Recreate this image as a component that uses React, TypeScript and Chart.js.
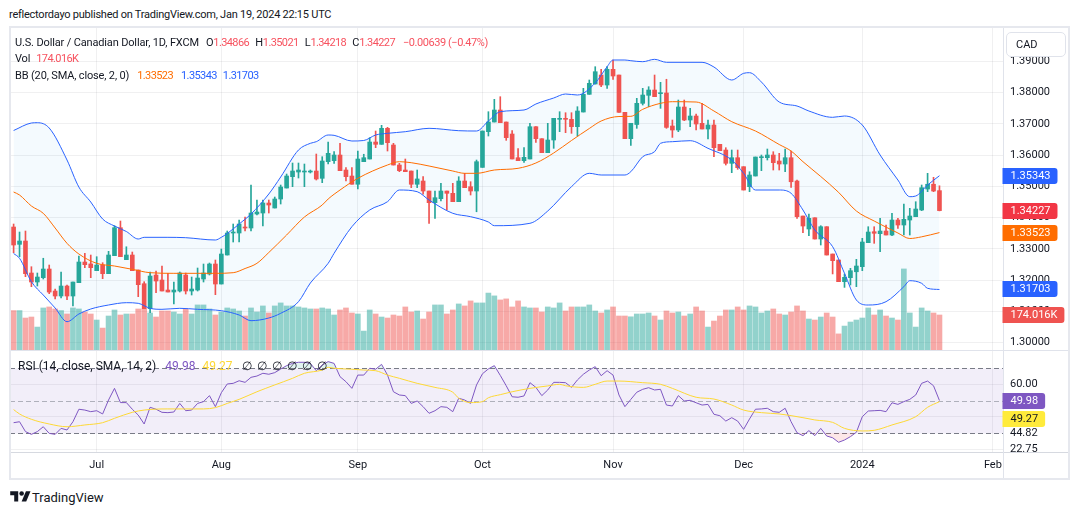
import React, { useEffect, useRef } from 'react';
import { Chart, registerables } from 'chart.js';

Chart.register(...registerables);

// USD/CAD daily bars, index 0 = 13 Jun 2023 … index 156 = 19 Jan 2024
const OPEN = [
  1.33702, 1.33148, 1.33254, 1.3223, 1.31942, 1.3208, 1.32358, 1.31654, 1.31494, 1.31814,
  1.31494, 1.3192, 1.32582, 1.3252, 1.32304, 1.32486, 1.32208, 1.32784, 1.3368, 1.32656,
  1.32806, 1.32326, 1.31888, 1.31088, 1.32166, 1.32006, 1.31686, 1.31622, 1.31654, 1.32166,
  1.31654, 1.31686, 1.32038, 1.32198, 1.32518, 1.31878, 1.32806, 1.3351, 1.3351, 1.33702,
  1.3367, 1.34118, 1.3415, 1.3447, 1.3431, 1.34598, 1.3495, 1.35312, 1.35462, 1.35462,
  1.35462, 1.35494, 1.3526, 1.35792, 1.35824, 1.36006, 1.35526, 1.35334, 1.3507, 1.35792,
  1.35878, 1.36422, 1.36348, 1.3686, 1.36326, 1.35686, 1.35526, 1.35494, 1.3507, 1.35174,
  1.34854, 1.3448, 1.34608, 1.34854, 1.3478, 1.34512, 1.35174, 1.34992, 1.34854, 1.3561,
  1.36752, 1.37062, 1.37446, 1.37062, 1.36678, 1.3592, 1.35824, 1.35878, 1.36912, 1.36528,
  1.3608, 1.36486, 1.37148, 1.3718, 1.37148, 1.36912, 1.37382, 1.37948, 1.38278, 1.38566,
  1.38246, 1.38748, 1.38566, 1.37372, 1.36528, 1.36982, 1.3766, 1.37916, 1.38086, 1.37968,
  1.3799, 1.36934, 1.36806, 1.37542, 1.37126, 1.37254, 1.3702, 1.36838, 1.36966, 1.36348,
  1.36166, 1.3574, 1.3592, 1.35632, 1.34992, 1.35334, 1.3592, 1.3592, 1.36006, 1.35814,
  1.35718, 1.3592, 1.35174, 1.34054, 1.33638, 1.33998, 1.33318, 1.33712, 1.32838, 1.32646,
  1.31952, 1.3208, 1.3227, 1.32432, 1.332, 1.33552, 1.33488, 1.33574, 1.33446, 1.33926,
  1.33766, 1.33926, 1.34032, 1.34246, 1.34918, 1.3507, 1.34866,
];
const HIGH = [
  1.33798, 1.33542, 1.33574, 1.32432, 1.3223, 1.32702, 1.32486, 1.31718, 1.32262, 1.31846,
  1.31942, 1.32774, 1.3286, 1.32806, 1.32752, 1.3256, 1.32924, 1.33744, 1.33894, 1.3307,
  1.32902, 1.32326, 1.31952, 1.32262, 1.32294, 1.32454, 1.3222, 1.31942, 1.32262, 1.3223,
  1.32102, 1.3239, 1.32518, 1.3255, 1.32646, 1.32998, 1.33574, 1.33798, 1.33926, 1.34022,
  1.35046, 1.34566, 1.34566, 1.34566, 1.34662, 1.35046, 1.35398, 1.3575, 1.3575, 1.35718,
  1.35526, 1.36038, 1.35952, 1.36422, 1.36112, 1.3638, 1.356, 1.356, 1.36134, 1.3603,
  1.3656, 1.36774, 1.36956, 1.36892, 1.3638, 1.3574, 1.35878, 1.35494, 1.35526, 1.35312,
  1.34854, 1.34854, 1.351, 1.34854, 1.351, 1.35312, 1.3542, 1.35152, 1.35846, 1.36774,
  1.37392, 1.37788, 1.37872, 1.37062, 1.36784, 1.36208, 1.3624, 1.3702, 1.36912, 1.36528,
  1.3702, 1.3718, 1.37392, 1.3736, 1.3736, 1.37552, 1.3814, 1.38406, 1.38832, 1.38748,
  1.38832, 1.39046, 1.38566, 1.37372, 1.37021, 1.3782, 1.3814, 1.38192, 1.38566, 1.38332,
  1.3843, 1.37126, 1.37766, 1.37766, 1.375, 1.37318, 1.3766, 1.37126, 1.37126, 1.36348,
  1.3624, 1.36166, 1.36166, 1.35632, 1.35472, 1.35942, 1.36006, 1.36198, 1.36112, 1.3606,
  1.36198, 1.36134, 1.35206, 1.34054, 1.34118, 1.33998, 1.33744, 1.33712, 1.32838, 1.32646,
  1.322, 1.3238, 1.32668, 1.3334, 1.33712, 1.33712, 1.3398, 1.33766, 1.3414, 1.3398,
  1.34438, 1.343, 1.34512, 1.35046, 1.3542, 1.35293, 1.35021,
];
const LOW = [
  1.3288, 1.32752, 1.32112, 1.31792, 1.31814, 1.32038, 1.31568, 1.31398, 1.3143, 1.31376,
  1.3118, 1.3192, 1.324, 1.3208, 1.32304, 1.32048, 1.32208, 1.32784, 1.32752, 1.32656,
  1.32304, 1.31472, 1.31088, 1.3096, 1.316, 1.31654, 1.31622, 1.31238, 1.31622, 1.31558,
  1.31526, 1.31654, 1.31942, 1.32166, 1.31536, 1.31878, 1.32806, 1.33222, 1.33222, 1.33574,
  1.33574, 1.34086, 1.33734, 1.3415, 1.3431, 1.34438, 1.3495, 1.34992, 1.3527, 1.34992,
  1.3543, 1.35206, 1.3512, 1.35718, 1.3574, 1.35504, 1.35174, 1.3507, 1.34918, 1.35792,
  1.35878, 1.3624, 1.36348, 1.36134, 1.35686, 1.35472, 1.35472, 1.34962, 1.34962, 1.3475,
  1.3382, 1.3398, 1.34534, 1.34246, 1.34512, 1.34512, 1.3496, 1.34726, 1.3419, 1.3561,
  1.36614, 1.37062, 1.3704, 1.36476, 1.35878, 1.35824, 1.35772, 1.35878, 1.36412, 1.3608,
  1.3608, 1.3622, 1.36752, 1.3672, 1.367, 1.36614, 1.37382, 1.37948, 1.38278, 1.38192,
  1.3814, 1.38428, 1.37372, 1.36528, 1.36316, 1.3686, 1.37606, 1.37552, 1.37872, 1.375,
  1.3686, 1.3657, 1.36752, 1.37104, 1.36912, 1.36806, 1.36838, 1.36518, 1.35952, 1.36144,
  1.35686, 1.3544, 1.35548, 1.34886, 1.34832, 1.35334, 1.35504, 1.35846, 1.35526, 1.35526,
  1.35472, 1.3497, 1.3398, 1.3352, 1.33424, 1.33318, 1.33126, 1.32806, 1.322, 1.31952,
  1.3177, 1.31846, 1.31792, 1.32304, 1.332, 1.3318, 1.32912, 1.33446, 1.33424, 1.3366,
  1.33446, 1.33446, 1.34032, 1.34224, 1.34832, 1.34832, 1.34218,
];
const CLOSE = [
  1.33126, 1.33254, 1.32208, 1.31942, 1.32102, 1.32358, 1.3162, 1.31494, 1.31814, 1.31494,
  1.31942, 1.32582, 1.32496, 1.324, 1.32486, 1.32208, 1.32806, 1.3368, 1.32752, 1.32806,
  1.32304, 1.31856, 1.31088, 1.32134, 1.31974, 1.31654, 1.31622, 1.31686, 1.3223, 1.31654,
  1.31718, 1.3207, 1.3223, 1.32518, 1.31878, 1.32838, 1.3351, 1.33542, 1.33798, 1.3367,
  1.3415, 1.34182, 1.3447, 1.34406, 1.34598, 1.34982, 1.35334, 1.35494, 1.35526, 1.35494,
  1.35494, 1.35238, 1.35814, 1.3606, 1.36006, 1.35504, 1.35312, 1.3507, 1.35878, 1.3592,
  1.36422, 1.36348, 1.3686, 1.364, 1.35686, 1.35504, 1.35472, 1.3507, 1.3524, 1.34854,
  1.3448, 1.3464, 1.34854, 1.3478, 1.34512, 1.35174, 1.3496, 1.34854, 1.35792, 1.36774,
  1.37062, 1.37446, 1.3704, 1.3656, 1.35878, 1.35824, 1.35932, 1.36912, 1.36528, 1.3608,
  1.36486, 1.3718, 1.3718, 1.37148, 1.36912, 1.37414, 1.37948, 1.383, 1.38672, 1.38246,
  1.38748, 1.38534, 1.37372, 1.36528, 1.37021, 1.3766, 1.37926, 1.38086, 1.37872, 1.38,
  1.3689, 1.36806, 1.37542, 1.37126, 1.37254, 1.36998, 1.36838, 1.36966, 1.3624, 1.36144,
  1.3574, 1.3592, 1.356, 1.34886, 1.35366, 1.35942, 1.35952, 1.36006, 1.3576, 1.35718,
  1.3592, 1.3515, 1.34032, 1.33734, 1.3398, 1.33318, 1.33712, 1.32806, 1.32624, 1.31952,
  1.32092, 1.32304, 1.32454, 1.33222, 1.33542, 1.33501, 1.33574, 1.33446, 1.33926, 1.33766,
  1.33948, 1.34054, 1.34278, 1.3496, 1.3507, 1.34854, 1.34227,
];
// volume in thousands
const VOLUME_K = [
  196, 196, 159, 164, 114, 209, 214, 204, 196, 179,
  209, 204, 189, 179, 149, 109, 169, 199, 174, 179,
  179, 204, 204, 184, 164, 194, 194, 189, 179, 204,
  179, 224, 224, 204, 174, 189, 209, 204, 194, 169,
  209, 189, 219, 184, 219, 234, 219, 219, 214, 209,
  204, 204, 209, 204, 174, 199, 209, 184, 179, 94,
  199, 179, 164, 159, 174, 169, 214, 189, 194, 154,
  189, 224, 224, 179, 199, 229, 219, 244, 234, 234,
  283, 269, 249, 254, 214, 244, 214, 209, 209, 189,
  214, 209, 234, 194, 214, 214, 214, 224, 194, 184,
  199, 214, 169, 169, 165, 179, 179, 184, 169, 149,
  194, 184, 189, 169, 179, 214, 194, 114, 144, 169,
  199, 199, 214, 199, 219, 214, 184, 194, 204, 179,
  174, 189, 219, 194, 154, 149, 164, 184, 164, 80,
  119, 139, 149, 159, 209, 174, 199, 169, 159, 149,
  403, 184, 114, 209, 194, 184, 174.016,
];

// Bollinger Bands (20, 2) as [bar index, price]
const BB_UPPER = [
  [0, 1.3679], [3, 1.3703], [4, 1.3704], [6, 1.3687], [9, 1.35846], [11, 1.3498], [13, 1.34502],
  [15, 1.33958], [17, 1.33734], [19, 1.33558], [21, 1.33318], [22, 1.33372], [26, 1.33372],
  [29, 1.3336], [34, 1.33286], [35, 1.33372], [36, 1.33494], [38, 1.33798], [40, 1.34118],
  [43, 1.34758], [45, 1.35302], [48, 1.36166], [50, 1.3638], [51, 1.36432], [53, 1.36646],
  [54, 1.36636], [57, 1.36454], [59, 1.3647], [61, 1.36646], [63, 1.367], [66, 1.36752],
  [70, 1.3686], [75, 1.36784], [78, 1.36774], [80, 1.37094], [82, 1.37392], [86, 1.37446],
  [88, 1.37638], [91, 1.3783], [93, 1.37958], [95, 1.37926], [98, 1.3831], [100, 1.38832],
  [101, 1.39046], [103, 1.39046], [104, 1.39024], [106, 1.38992], [108, 1.39068], [110, 1.38972],
  [116, 1.38972], [118, 1.38822], [121, 1.38406], [123, 1.3862], [124, 1.3864], [126, 1.38342],
  [129, 1.37702], [132, 1.37574], [134, 1.37414], [138, 1.37212], [140, 1.37254], [143, 1.36966],
  [146, 1.36006], [149, 1.35206], [151, 1.34672], [152, 1.34694], [154, 1.35046], [156, 1.35343],
];
const BB_BASIS = [
  [0, 1.34822], [1, 1.34726], [3, 1.34374], [5, 1.3414], [7, 1.3367], [9, 1.3318], [11, 1.32838],
  [14, 1.3254], [17, 1.32454], [20, 1.32348], [23, 1.3224], [27, 1.3222], [31, 1.3222], [34, 1.3222],
  [37, 1.3224], [39, 1.32374], [41, 1.3254], [43, 1.32886], [46, 1.33446], [49, 1.34022],
  [52, 1.34406], [53, 1.34598], [55, 1.34886], [58, 1.3526], [63, 1.35686], [65, 1.35792],
  [67, 1.3576], [70, 1.35654], [74, 1.35494], [76, 1.3542], [78, 1.3542], [81, 1.35526],
  [85, 1.3558], [88, 1.3575], [91, 1.3607], [94, 1.3647], [97, 1.36854], [99, 1.37094],
  [102, 1.37238], [104, 1.37244], [106, 1.37468], [109, 1.3766], [111, 1.37712], [115, 1.37702],
  [118, 1.37414], [121, 1.37072], [125, 1.36774], [129, 1.36342], [131, 1.36134], [133, 1.35792],
  [136, 1.35318], [139, 1.34812], [142, 1.34214], [145, 1.33894], [149, 1.3351], [151, 1.33334],
  [153, 1.33388], [156, 1.33523],
];
const BB_LOWER = [
  [0, 1.32854], [1, 1.327], [3, 1.31952], [5, 1.31526], [7, 1.3111], [9, 1.30672], [11, 1.30918],
  [13, 1.31078], [16, 1.31206], [19, 1.3128], [21, 1.3126], [23, 1.311], [25, 1.31068], [28, 1.311],
  [31, 1.31068], [35, 1.31024], [38, 1.30886], [40, 1.30704], [43, 1.3079], [45, 1.3094],
  [48, 1.31312], [50, 1.3191], [53, 1.3254], [54, 1.3286], [57, 1.33712], [60, 1.34246],
  [63, 1.34512], [65, 1.34886], [68, 1.34832], [70, 1.34566], [74, 1.3414], [77, 1.34032],
  [80, 1.33862], [81, 1.33744], [87, 1.3382], [90, 1.34214], [94, 1.34992], [97, 1.3542],
  [99, 1.35366], [103, 1.35366], [104, 1.35472], [106, 1.35952], [108, 1.36112], [109, 1.3638],
  [111, 1.36432], [114, 1.36464], [117, 1.3622], [121, 1.35846], [123, 1.3542], [125, 1.34886],
  [129, 1.34886], [131, 1.3478], [133, 1.34246], [135, 1.33606], [138, 1.33072], [140, 1.3222],
  [142, 1.31366], [144, 1.31206], [147, 1.31312], [150, 1.31792], [151, 1.31984], [153, 1.319],
  [154, 1.3174], [156, 1.31703],
];

// RSI (14) per bar and its 14-period SMA as [bar index, value]
const RSI = [
  36.3, 36.9, 30.8, 29.1, 30.8, 33.8, 29.7, 29.1, 32.8, 31.8,
  36.9, 44.6, 44.1, 43.1, 43.7, 41.7, 50.3, 57.5, 48.7, 48.7,
  44.6, 41.0, 35.5, 45.8, 44.6, 42.7, 42.5, 42.9, 48.2, 43.7,
  44.1, 48.2, 49.3, 53.0, 46.2, 54.8, 60.2, 60.6, 62.2, 61.2,
  64.3, 65.1, 66.8, 66.2, 67.2, 69.4, 71.5, 72.9, 73.6, 73.6,
  72.9, 68.4, 71.9, 74.0, 72.9, 64.7, 61.6, 57.5, 65.7, 65.7,
  69.9, 69.3, 72.3, 65.7, 55.4, 53.4, 53.0, 48.2, 49.7, 46.2,
  42.1, 43.7, 46.2, 45.8, 43.1, 51.4, 50.3, 48.2, 59.6, 66.5,
  69.5, 71.5, 65.5, 59.1, 52.3, 52.0, 52.8, 61.0, 58.1, 53.0,
  56.5, 61.2, 61.2, 61.0, 58.1, 62.7, 66.2, 68.8, 70.9, 65.3,
  68.4, 65.7, 53.4, 46.2, 50.7, 55.1, 56.9, 57.9, 56.5, 56.9,
  47.2, 46.6, 53.0, 49.7, 50.1, 48.6, 47.2, 47.6, 41.5, 40.6,
  37.3, 39.4, 37.3, 32.2, 38.6, 44.6, 44.8, 45.2, 43.1, 42.7,
  45.2, 36.9, 30.1, 28.3, 31.4, 28.3, 32.8, 28.1, 27.0, 24.2,
  25.6, 27.7, 30.4, 40.0, 43.5, 43.7, 43.9, 43.1, 48.6, 47.6,
  49.3, 50.7, 53.4, 60.6, 62.0, 59.1, 49.98,
];
const RSI_MA = [
  [0, 44.4], [1, 41.7], [3, 38.4], [6, 35.5], [9, 33.8], [12, 34.9], [15, 36.3], [17, 39.0],
  [20, 42.7], [22, 44.1], [26, 44.8], [29, 44.8], [32, 44.8], [34, 45.6], [36, 48.2], [38, 50.7],
  [41, 55.4], [44, 59.6], [47, 63.7], [49, 66.8], [52, 68.8], [53, 70.5], [54, 69.9], [57, 69.3],
  [59, 68.8], [61, 68.4], [63, 65.7], [65, 63.7], [68, 60.6], [71, 58.1], [74, 55.1], [75, 51.4],
  [77, 48.7], [79, 49.3], [80, 51.7], [82, 53.6], [84, 55.4], [87, 57.5], [90, 59.0], [92, 60.0],
  [93, 59.1], [96, 58.1], [98, 60.0], [100, 62.0], [102, 62.0], [106, 61.0], [109, 60.0],
  [111, 57.5], [115, 52.0], [118, 50.9], [121, 47.2], [123, 44.1], [126, 42.5], [129, 41.7],
  [133, 39.4], [135, 38.0], [138, 36.5], [140, 32.8], [143, 31.2], [145, 31.6], [148, 34.9],
  [152, 40.0], [154, 45.8], [156, 49.27],
];

// axis ticks
const PRICE_TICKS = [1.3, 1.31, 1.32, 1.33, 1.34, 1.35, 1.36, 1.37, 1.38, 1.39];
const MONTH_TICK_BARS = [14, 35, 58, 79, 101, 123, 143, 165];
const MONTH_TICK_LABELS = ['Jul', 'Aug', 'Sep', 'Oct', 'Nov', 'Dec', '2024', 'Feb'];
const RSI_TICKS = [60, 40, 30, 20];
const RSI_TICK_LABELS = ['60.00', '', '44.82', '22.75'];
const RSI_LEVELS = [70, 50, 30];

// last values shown in the axis tags
const LAST_CLOSE = 1.34227;
const LAST_BB_UPPER = 1.35343;
const LAST_BB_BASIS = 1.33523;
const LAST_BB_LOWER = 1.31703;
const LAST_VOLUME_K = 174.016;
const LAST_RSI = 49.98;
const LAST_RSI_MA = 49.27;

const DARK = '#131722';
const UP = '#26a69a';
const DOWN = '#ef5350';
const VOL_UP = 'rgba(38,166,154,0.5)';
const VOL_DOWN = 'rgba(239,83,80,0.5)';
const BLUE = '#2962ff';
const ORANGE = '#ff6d00';
const PURPLE = '#7e57c2';
const YELLOW = '#fdd835';
const GRID = 'rgba(42,46,57,0.07)';
const PANE_LINE = '#e0e3eb';
const FONT = 'Roboto, "Noto Sans", sans-serif';

const X_MIN = -0.6066;
const X_MAX = 166.706;

const pts = (pairs) => pairs.map(([x, y]) => ({ x, y }));
const isUp = (i) => CLOSE[i] >= OPEN[i];

const noPadding = (s) => {
  s.paddingTop = 0;
  s.paddingBottom = 0;
  s.paddingLeft = 0;
  s.paddingRight = 0;
};

function axisTags(tags) {
  return {
    id: 'axisTags',
    afterDraw(chart) {
      const { ctx, chartArea } = chart;
      ctx.save();
      ctx.font = `11px ${FONT}`;
      ctx.textBaseline = 'middle';
      ctx.textAlign = 'left';
      let prevBottom = -Infinity;
      for (const t of tags) {
        let y = Math.round(chart.scales[t.axis].getPixelForValue(t.value));
        if (y - 8 < prevBottom + 2) y = prevBottom + 10;
        const w = ctx.measureText(t.text).width + 15;
        ctx.fillStyle = t.bg;
        ctx.beginPath();
        ctx.roundRect(chartArea.right - 0.5, y - 8, w, 16, [0, 3, 3, 0]);
        ctx.fill();
        ctx.fillStyle = t.fg;
        ctx.fillText(t.text, chartArea.right + 7.5, y + 0.5);
        prevBottom = y + 8;
      }
      ctx.restore();
    },
  };
}

const rsiBands = {
  id: 'rsiBands',
  beforeDatasetsDraw(chart) {
    const { ctx, chartArea: a } = chart;
    const s = chart.scales.y;
    const [hi, mid, lo] = RSI_LEVELS.map((v) => Math.round(s.getPixelForValue(v)) + 0.5);
    ctx.save();
    ctx.fillStyle = 'rgba(126,87,194,0.1)';
    ctx.fillRect(a.left, hi, a.right - a.left, lo - hi);
    ctx.lineWidth = 1;
    ctx.setLineDash([5, 3]);
    const lines = [[hi, '#787b86'], [mid, 'rgba(120,123,134,0.55)'], [lo, '#787b86']];
    for (const [y, c] of lines) {
      ctx.strokeStyle = c;
      ctx.beginPath();
      ctx.moveTo(a.left, y);
      ctx.lineTo(a.right, y);
      ctx.stroke();
    }
    ctx.restore();
  },
};

const monthAxis = (showLabels) => ({
  type: 'linear',
  min: X_MIN,
  max: X_MAX,
  offset: false,
  afterBuildTicks: (s) => {
    s.ticks = MONTH_TICK_BARS.map((value) => ({ value }));
  },
  ticks: {
    display: showLabels,
    autoSkip: false,
    maxRotation: 0,
    minRotation: 0,
    padding: 7,
    color: DARK,
    font: { size: 11, family: FONT },
    callback: (_v, i) => MONTH_TICK_LABELS[i],
  },
  grid: { color: GRID, drawTicks: false, offset: false },
  border: { display: false },
  afterFit: (s) => {
    s.height = showLabels ? 26 : 0;
    noPadding(s);
  },
});

export default function App() {
  const priceRef = useRef(null);
  const rsiRef = useRef(null);

  useEffect(() => {
    Chart.defaults.font.family = FONT;
    Chart.defaults.font.size = 11;
    Chart.defaults.color = DARK;

    const idx = OPEN.map((_, i) => i);
    const candleColors = idx.map((i) => (isUp(i) ? UP : DOWN));

    const price = new Chart(priceRef.current, {
      type: 'bar',
      data: {
        datasets: [
          {
            label: 'Vol',
            yAxisID: 'yVol',
            data: VOLUME_K.map((v, i) => ({ x: i, y: v })),
            backgroundColor: idx.map((i) => (isUp(i) ? VOL_UP : VOL_DOWN)),
            barThickness: 5,
            grouped: false,
            order: 10,
          },
          {
            label: 'Wick',
            yAxisID: 'y',
            data: idx.map((i) => ({ x: i, y: [LOW[i], HIGH[i]] })),
            backgroundColor: candleColors,
            barThickness: 1,
            minBarLength: 1,
            grouped: false,
            order: 9,
          },
          {
            label: 'Body',
            yAxisID: 'y',
            data: idx.map((i) => ({ x: i, y: [OPEN[i], CLOSE[i]] })),
            backgroundColor: candleColors,
            barThickness: 4,
            minBarLength: 1,
            grouped: false,
            order: 8,
          },
          {
            type: 'line',
            label: 'Upper',
            yAxisID: 'y',
            data: pts(BB_UPPER),
            borderColor: BLUE,
            borderWidth: 1,
            pointRadius: 0,
            cubicInterpolationMode: 'monotone',
            fill: 5,
            backgroundColor: 'rgba(33,150,243,0.05)',
            order: 3,
          },
          {
            type: 'line',
            label: 'Basis',
            yAxisID: 'y',
            data: pts(BB_BASIS),
            borderColor: ORANGE,
            borderWidth: 1,
            pointRadius: 0,
            cubicInterpolationMode: 'monotone',
            fill: false,
            order: 2,
          },
          {
            type: 'line',
            label: 'Lower',
            yAxisID: 'y',
            data: pts(BB_LOWER),
            borderColor: BLUE,
            borderWidth: 1,
            pointRadius: 0,
            cubicInterpolationMode: 'monotone',
            fill: false,
            order: 1,
          },
        ],
      },
      options: {
        responsive: false,
        animation: false,
        devicePixelRatio: 1,
        events: [],
        layout: { padding: 0, autoPadding: false },
        plugins: {
          legend: { display: false },
          tooltip: { enabled: false },
          filler: { drawTime: 'beforeDatasetsDraw' },
        },
        scales: {
          x: monthAxis(false),
          y: {
            type: 'linear',
            position: 'right',
            min: 1.297664,
            max: 1.400704,
            afterBuildTicks: (s) => {
              s.ticks = PRICE_TICKS.map((value) => ({ value }));
            },
            ticks: {
              padding: 7,
              color: DARK,
              font: { size: 11, family: FONT },
              callback: (v) => Number(v).toFixed(5),
            },
            grid: { color: GRID, drawTicks: false },
            border: { color: PANE_LINE },
            afterFit: (s) => {
              s.width = 66;
              noPadding(s);
            },
          },
          yVol: { type: 'linear', display: false, min: 0, max: 1601 },
        },
      },
      plugins: [
        axisTags([
          { axis: 'y', value: LAST_BB_UPPER, text: LAST_BB_UPPER.toFixed(5), bg: BLUE, fg: '#fff' },
          { axis: 'y', value: LAST_CLOSE, text: LAST_CLOSE.toFixed(5), bg: '#f23645', fg: '#fff' },
          { axis: 'y', value: LAST_BB_BASIS, text: LAST_BB_BASIS.toFixed(5), bg: ORANGE, fg: '#fff' },
          { axis: 'y', value: LAST_BB_LOWER, text: LAST_BB_LOWER.toFixed(5), bg: BLUE, fg: '#fff' },
          { axis: 'yVol', value: LAST_VOLUME_K, text: `${LAST_VOLUME_K.toFixed(3)}K`, bg: '#ef5350', fg: '#fff' },
        ]),
      ],
    });

    const rsiPts = RSI.map((v, i) => ({ x: i, y: v }));
    const rsi = new Chart(rsiRef.current, {
      type: 'line',
      data: {
        datasets: [
          {
            label: 'RSI',
            data: rsiPts,
            borderColor: PURPLE,
            borderWidth: 1,
            pointRadius: 0,
            fill: { target: { value: 30 }, above: 'rgba(0,0,0,0)', below: 'rgba(242,54,69,0.12)' },
            order: 2,
          },
          {
            label: 'RSI overbought',
            data: rsiPts,
            borderWidth: 0,
            borderColor: 'rgba(0,0,0,0)',
            pointRadius: 0,
            fill: { target: { value: 70 }, above: 'rgba(8,153,129,0.12)', below: 'rgba(0,0,0,0)' },
            order: 3,
          },
          {
            label: 'RSI-based MA',
            data: pts(RSI_MA),
            borderColor: YELLOW,
            borderWidth: 1,
            pointRadius: 0,
            cubicInterpolationMode: 'monotone',
            fill: false,
            order: 1,
          },
        ],
      },
      options: {
        responsive: false,
        animation: false,
        devicePixelRatio: 1,
        events: [],
        layout: { padding: 0, autoPadding: false },
        plugins: { legend: { display: false }, tooltip: { enabled: false } },
        scales: {
          x: monthAxis(true),
          y: {
            type: 'linear',
            position: 'right',
            min: 18.21,
            max: 80.556,
            afterBuildTicks: (s) => {
              s.ticks = RSI_TICKS.map((value) => ({ value }));
            },
            ticks: {
              padding: 7,
              color: DARK,
              font: { size: 11, family: FONT },
              callback: (_v, i) => RSI_TICK_LABELS[i],
            },
            grid: {
              drawTicks: false,
              color: (c) => (c.tick && c.tick.value === 30 ? 'rgba(0,0,0,0)' : GRID),
            },
            border: { color: PANE_LINE },
            afterFit: (s) => {
              s.width = 66;
              noPadding(s);
            },
          },
        },
      },
      plugins: [
        rsiBands,
        axisTags([
          { axis: 'y', value: LAST_RSI, text: LAST_RSI.toFixed(2), bg: PURPLE, fg: '#fff' },
          { axis: 'y', value: LAST_RSI_MA, text: LAST_RSI_MA.toFixed(2), bg: '#ffeb3b', fg: DARK },
        ]),
      ],
    });

    return () => {
      price.destroy();
      rsi.destroy();
    };
  }, []);

  const abs = (o) => ({ position: 'absolute', whiteSpace: 'nowrap', ...o });
  const red = '#f7525f';
  const line = { fontSize: 11, letterSpacing: -0.15, lineHeight: '14px' };
  const num = { letterSpacing: -0.6 };

  return (
    <div
      style={{
        position: 'absolute',
        left: 0,
        top: 0,
        width: 1080,
        height: 515,
        background: '#fff',
        fontFamily: FONT,
        color: DARK,
        overflow: 'hidden',
      }}
    >
      <div style={abs({ left: 9, top: 8, ...line, letterSpacing: -0.24 })}>
        reflectordayo published on TradingView.com, Jan 19, 2024 22:15 UTC
      </div>

      <canvas ref={priceRef} width={1059} height={322} style={abs({ left: 10, top: 28, width: 1059, height: 322 })} />
      <canvas ref={rsiRef} width={1059} height={127} style={abs({ left: 10, top: 351, width: 1059, height: 127 })} />

      {/* pane separators */}
      <div style={abs({ left: 10, top: 350, width: 1059, height: 1, background: PANE_LINE })} />
      <div style={abs({ left: 1003, top: 453, width: 66, height: 25, background: '#fff' })} />
      <div style={abs({ left: 10, top: 452, width: 1059, height: 1, background: '#d6d9e0' })} />
      <div style={abs({ left: 1003, top: 452, width: 1, height: 26, background: PANE_LINE })} />

      {/* frame */}
      <div
        style={abs({
          left: 9,
          top: 26,
          width: 1061,
          height: 454,
          border: '2px solid #e6e8ee',
          boxSizing: 'border-box',
        })}
      />

      {/* currency button */}
      <div
        style={abs({
          left: 1006,
          top: 32,
          width: 60,
          height: 25,
          background: '#fff',
          border: '1px solid #e0e3eb',
          borderRadius: 5,
          boxSizing: 'border-box',
          fontSize: 11,
          lineHeight: '23px',
          paddingLeft: 9,
        })}
      >
        CAD
      </div>

      {/* main pane legend */}
      <div style={abs({ left: 15, top: 36, ...line })}>
        <span>U.S. Dollar / Canadian Dollar, 1D, FXCM</span>
        <span style={{ marginLeft: 7 }}>O</span>
        <span style={{ color: red, ...num }}>1.34866</span>
        <span style={{ marginLeft: 6 }}>H</span>
        <span style={{ color: red, ...num }}>1.35021</span>
        <span style={{ marginLeft: 6 }}>L</span>
        <span style={{ color: red, ...num }}>1.34218</span>
        <span style={{ marginLeft: 6 }}>C</span>
        <span style={{ color: red, ...num }}>1.34227</span>
        <span style={{ color: red, marginLeft: 8, letterSpacing: -0.45 }}>−0.00639 (−0.47%)</span>
      </div>
      <div style={abs({ left: 15, top: 52, ...line })}>
        <span>Vol</span>
        <span style={{ color: red, marginLeft: 6, ...num }}>174.016K</span>
      </div>
      <div style={abs({ left: 15, top: 69, ...line })}>
        <span>BB (20, SMA, close, 2, 0)</span>
        <span style={{ color: ORANGE, marginLeft: 8, ...num }}>1.33523</span>
        <span style={{ color: BLUE, marginLeft: 8, ...num }}>1.35343</span>
        <span style={{ color: BLUE, marginLeft: 6, ...num }}>1.31703</span>
      </div>

      {/* RSI pane legend */}
      <div style={abs({ left: 18, top: 359, fontSize: 12, lineHeight: '14px' })}>
        <span>RSI (14, close, SMA, 14, 2)</span>
        <span style={{ color: PURPLE, marginLeft: 9 }}>49.98</span>
        <span style={{ color: YELLOW, marginLeft: 7 }}>49.27</span>
        {['∅', '∅', '∅', '∅', '∅', '∅'].map((s, i) => (
          <span key={i} style={{ marginLeft: i === 0 ? 9 : 5 }}>
            {s}
          </span>
        ))}
      </div>

      {/* footer */}
      <svg style={abs({ left: 10, top: 489 })} width="21" height="16" viewBox="0 0 36 28">
        <path d="M14 22H7V11H0V4h14v18z" fill={DARK} />
        <circle cx="20" cy="8" r="4" fill={DARK} />
        <path d="M28 22h-8l7.5-18h8L28 22z" fill={DARK} />
      </svg>
      <div style={abs({ left: 32, top: 490, fontSize: 13, lineHeight: '15px' })}>TradingView</div>
    </div>
  );
}
